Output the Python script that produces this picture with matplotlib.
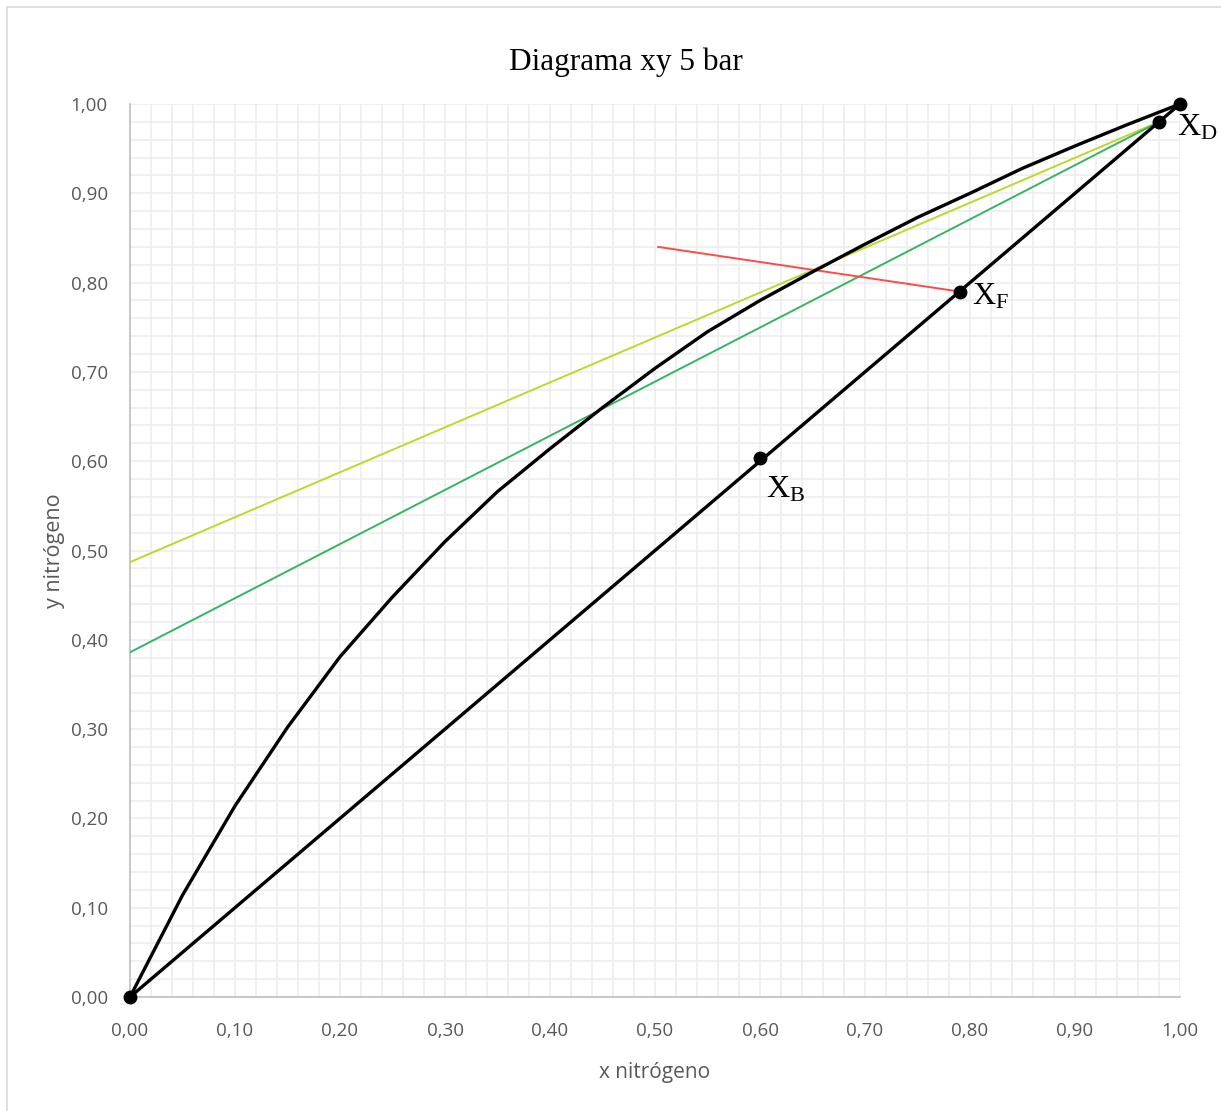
import matplotlib
matplotlib.use("Agg")
import matplotlib.pyplot as plt
from matplotlib.patches import Rectangle
import numpy as np

# Equilibrium curve (x, y nitrógeno)
eq_x = [0.00, 0.05, 0.10, 0.15, 0.20, 0.25, 0.30, 0.35, 0.40, 0.45, 0.50, 0.55, 0.60,
        0.65, 0.70, 0.75, 0.80, 0.85, 0.90, 0.95, 1.00]
eq_y = [0.00, 0.114, 0.214, 0.302, 0.381, 0.448, 0.510, 0.566, 0.614, 0.660, 0.704, 0.745, 0.780,
        0.812, 0.843, 0.873, 0.900, 0.928, 0.953, 0.977, 1.00]

# Diagonal
diag_x = [0.00, 1.00]
diag_y = [0.00, 1.00]

# Operating lines
op1_x = [0.00, 0.98]
op1_y = [0.487, 0.98]
op2_x = [0.00, 0.98]
op2_y = [0.386, 0.98]

# q-line
q_x = [0.503, 0.79]
q_y = [0.840, 0.79]

# Key points
pts_x = [0.98, 0.79, 0.60]
pts_y = [0.98, 0.79, 0.604]
pts_lbl = ["D", "F", "B"]

fig = plt.figure(figsize=(12.21, 11.11), dpi=100)
ax = fig.add_axes([130/1221, 1 - 997/1111, 1050/1221, 893/1111])

fig.patches.append(Rectangle((7/1221, -0.01), 1.1, 1 - 7/1111 + 0.01, transform=fig.transFigure,
                             fill=False, edgecolor='#d9d9d9', linewidth=1.2))

ax.set_xlim(0, 1)
ax.set_ylim(0, 1)
ax.set_xticks(np.arange(0, 1.001, 0.1))
ax.set_yticks(np.arange(0, 1.001, 0.1))
ax.set_xticks(np.arange(0, 1.001, 0.02), minor=True)
ax.set_yticks(np.arange(0, 1.001, 0.02), minor=True)
ax.grid(True, which='both', color='#ededed', linewidth=1.2)
ax.set_axisbelow(True)
ax.tick_params(which='both', length=0)
ax.set_xticklabels([f"{v:.2f}".replace('.', ',') for v in np.arange(0, 1.001, 0.1)],
                   fontsize=13.5, color='#595959', family='Open Sans')
ax.set_yticklabels([f"{v:.2f}".replace('.', ',') for v in np.arange(0, 1.001, 0.1)],
                   fontsize=13.5, color='#595959', family='Open Sans')
ax.tick_params(axis='x', pad=18)
ax.tick_params(axis='y', pad=16)
for s in ['top', 'right']:
    ax.spines[s].set_visible(False)
for s in ['left', 'bottom']:
    ax.spines[s].set_color('#bfbfbf')
    ax.spines[s].set_linewidth(1.2)

ax.set_xlabel('x nitrógeno', fontsize=15, color='#595959', family='Open Sans', labelpad=16)
ax.set_ylabel('y nitrógeno', fontsize=15.5, color='#595959', family='Open Sans', labelpad=4)
fig.text(626/1221, 1 - 62/1111, 'Diagrama xy 5 bar', ha='center', va='center',
         fontsize=22.5, family='Liberation Serif')

ax.plot(op1_x, op1_y, color='#bcd92b', linewidth=1.4, zorder=3)
ax.plot(op2_x, op2_y, color='#35b562', linewidth=1.4, zorder=3)
ax.plot(q_x, q_y, color='#ff4a4a', linewidth=1.4, zorder=3)
ax.plot(eq_x, eq_y, color='black', linewidth=2.4, zorder=4)
ax.plot(diag_x, diag_y, color='black', linewidth=2.4, zorder=4,
        marker='o', markersize=9, clip_on=False)
ax.plot(pts_x, pts_y, linestyle='none', marker='o', markersize=9, color='black', zorder=5)

offsets = {"D": (0.017, -0.007), "F": (0.012, -0.006), "B": (0.006, -0.036)}
for x, y, l in zip(pts_x, pts_y, pts_lbl):
    dx, dy = offsets[l]
    ax.text(x + dx, y + dy, r'$\mathregular{X_{%s}}$' % l, fontsize=23,
            family='Liberation Serif', ha='left', va='center', clip_on=False, zorder=6)

fig.savefig('out.png', dpi=100)
